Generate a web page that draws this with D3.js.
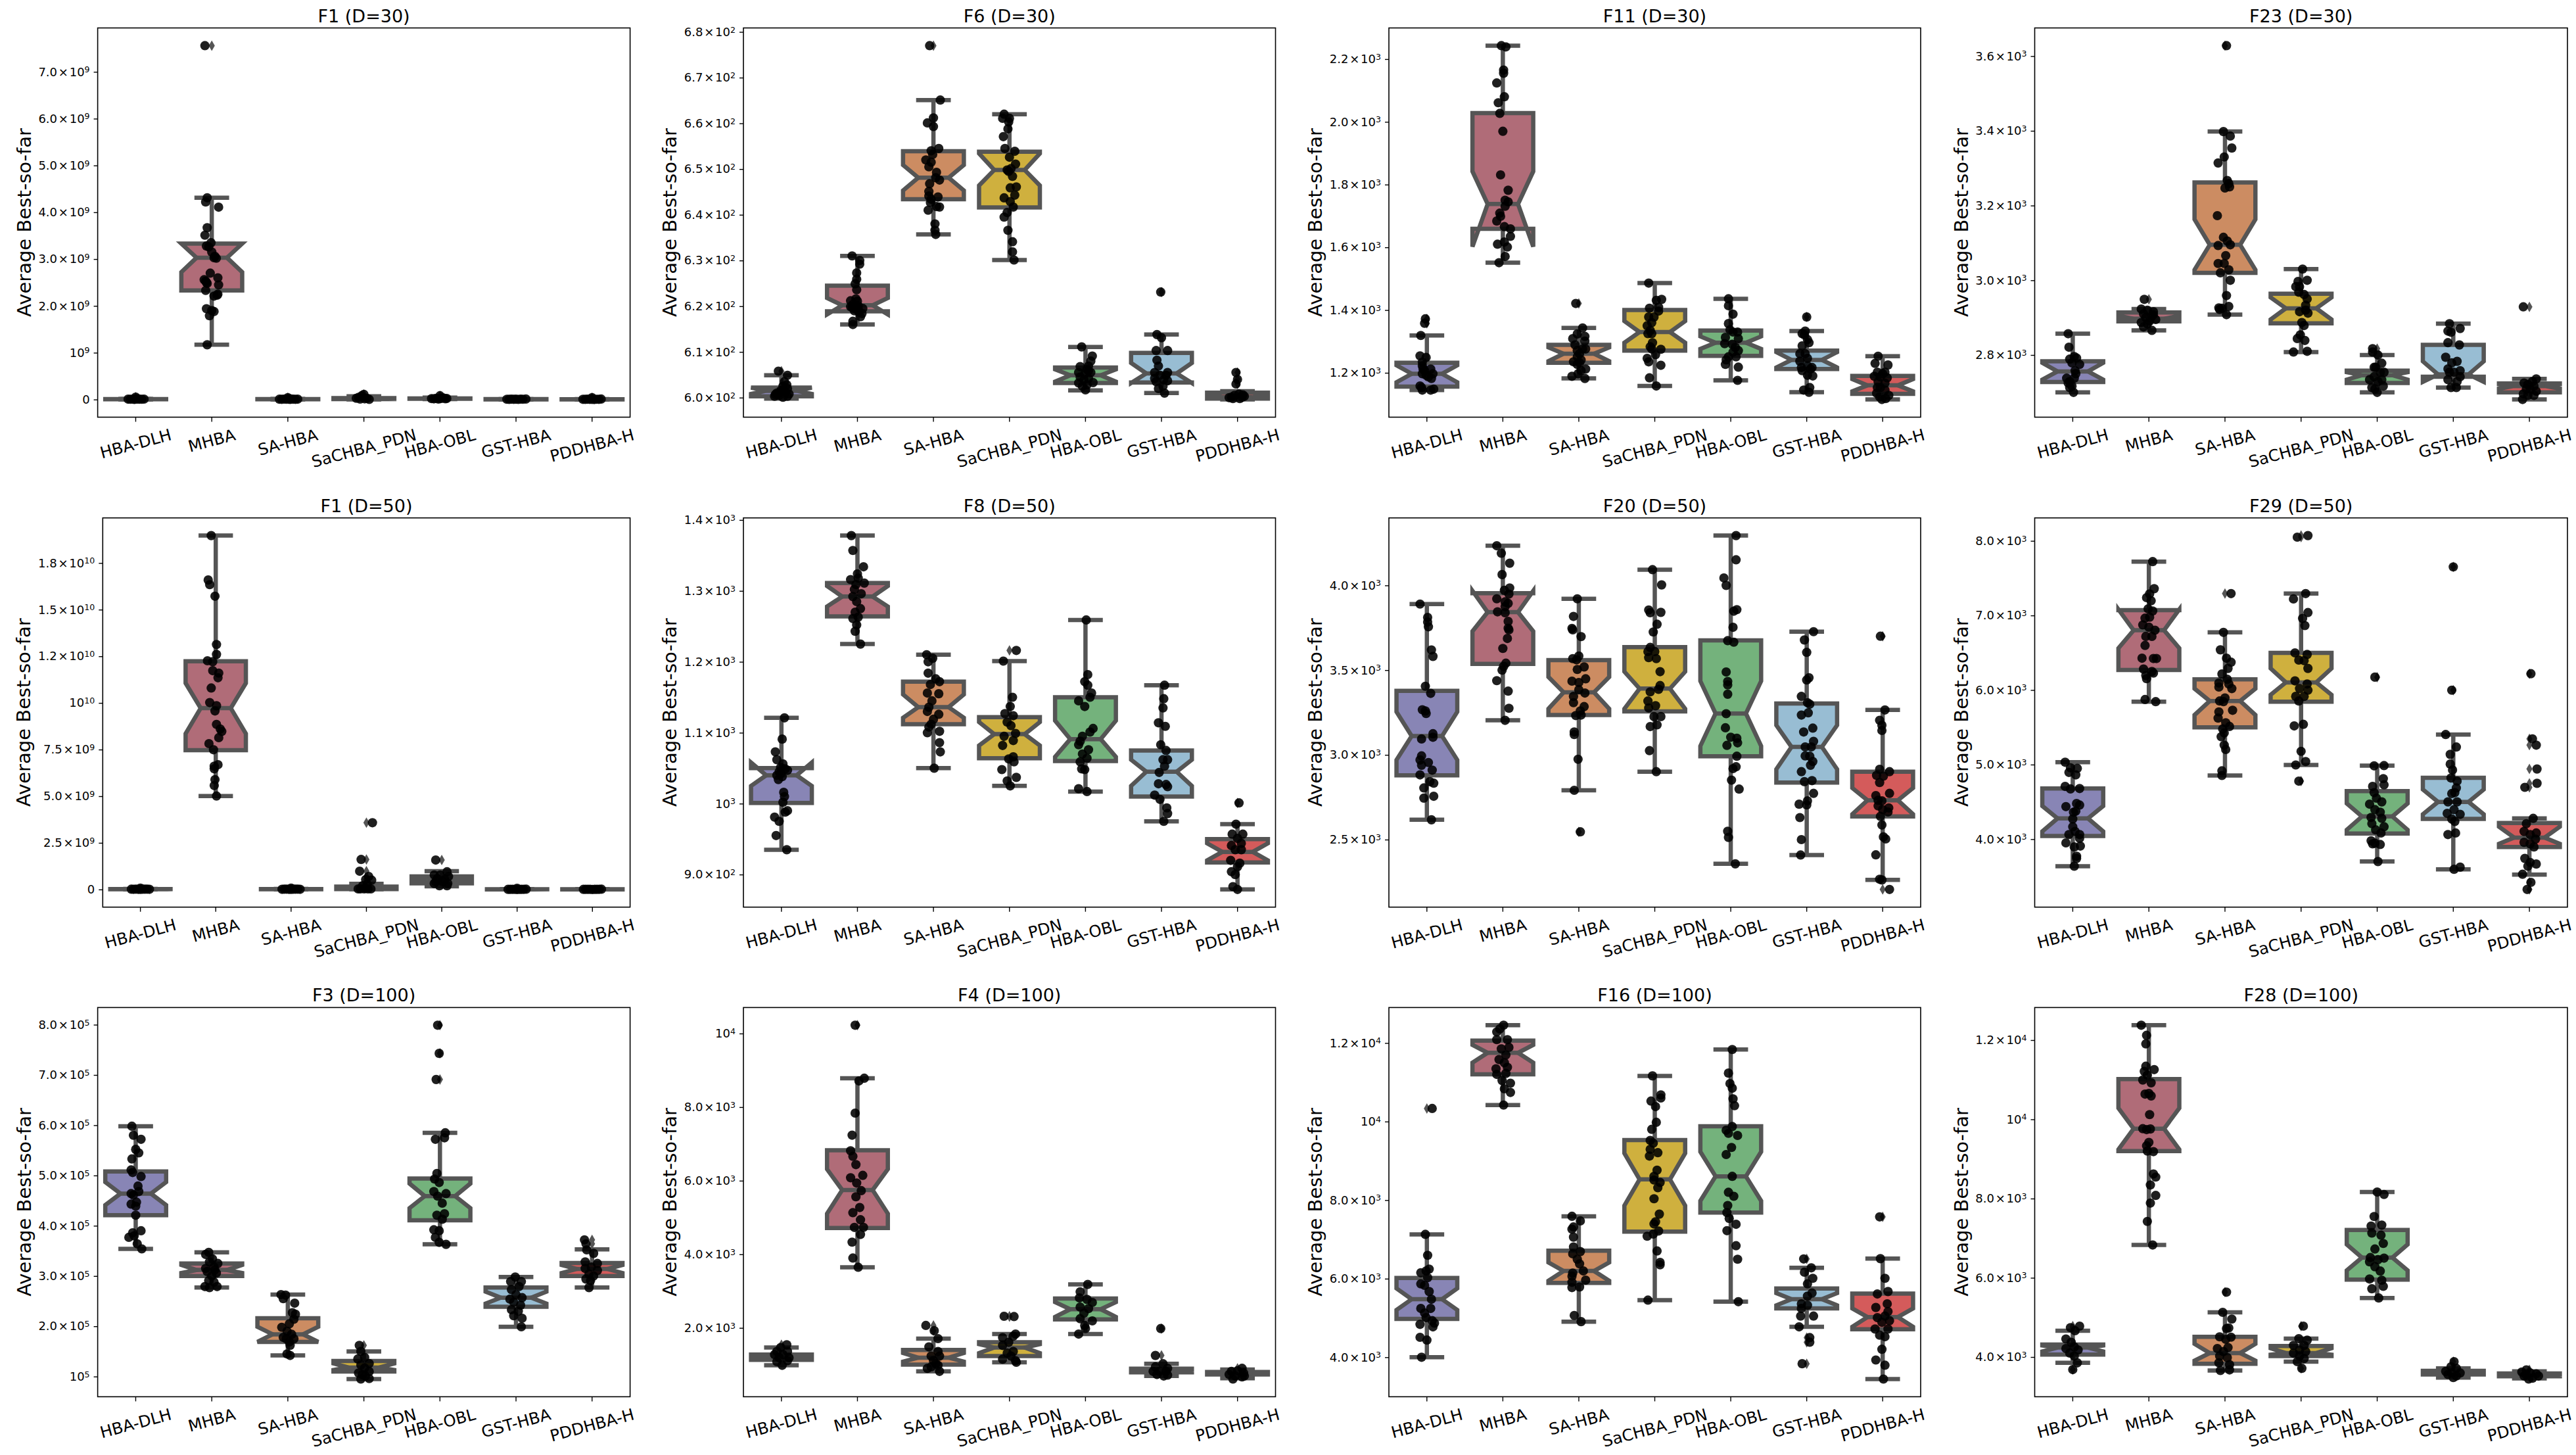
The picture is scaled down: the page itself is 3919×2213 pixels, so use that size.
<!DOCTYPE html>
<html>
<head>
<meta charset="utf-8">
<script src="https://cdn.jsdelivr.net/npm/d3@7/dist/d3.min.js"></script>
<style>
  html, body { margin: 0; padding: 0; background: #fff; }
  svg { display: block; }
  text { font-family: "DejaVu Sans", sans-serif; fill: #000; }
</style>
</head>
<body>
<div id="chart"></div>
<script>
var categories = ['HBA-DLH', 'MHBA', 'SA-HBA', 'SaCHBA_PDN', 'HBA-OBL', 'GST-HBA', 'PDDHBA-H'];
var fills = ['#8885b5', '#b06c78', '#cc8c62', '#cfb03e', '#74b27c', '#98bdd3', '#d45b5b'];

// box rows are [whisker low, q1, notch low, median, notch high, q3, whisker high]
// point rows are [jitter in hundredths of a category, value]

// F1 (D=30)
var f1d30Ticks = [0, 1e9, 2e9, 3e9, 4e9, 5e9, 6e9, 7e9];
var f1d30Labels = ['0', '10⁹', '2.0×10⁹', '3.0×10⁹', '4.0×10⁹', '5.0×10⁹', '6.0×10⁹', '7.0×10⁹'];
var f1d30Boxes = [
  [4e6, 6e6, 7e6, 8e6, 9e6, 1e7, 1.3e7],
  [1.17e9, 2.33e9, 2.72e9, 3.03e9, 3.33e9, 3.33e9, 4.31e9],
  [3e6, 5e6, 6e6, 7e6, 8e6, 9e6, 1.2e7],
  [3e6, 1e7, 1.5e7, 2e7, 2.5e7, 3e7, 7e7],
  [1e7, 1.5e7, 1.7e7, 2e7, 2.2e7, 2.5e7, 4e7],
  [2e6, 4e6, 5e6, 6e6, 7e6, 8e6, 1.1e7],
  [1e6, 3e6, 4e6, 5e6, 6e6, 7e6, 1e7]
];
var f1d30Points = [
  [[0, 5e7], [-10, 8e6], [-7, 6e6], [-4, 9e6], [-1, 7e6], [2, 1e7], [5, 8e6], [8, 6e6], [11, 9e6], [-2, 4e6], [3, 1.3e7]],
  [[-9, 7.56e9], [-6, 4.31e9], [-8, 4.22e9], [9, 4.11e9], [-6, 3.67e9], [-9, 3.51e9], [-1, 3.35e9], [-7, 3.28e9], [-4, 3.26e9], [0, 3.15e9], [4, 3.06e9], [3, 3.03e9], [6, 3.02e9], [-2, 2.7e9], [8, 2.6e9], [-10, 2.56e9], [-8, 2.53e9], [-7, 2.5e9], [-6, 2.48e9], [9, 2.45e9], [-8, 2.33e9], [8, 2.25e9], [7, 2.23e9], [3, 2.21e9], [-7, 1.94e9], [0, 1.9e9], [3, 1.88e9], [-3, 1.79e9], [-6, 1.17e9]],
  [[0, 4e7], [-11, 7e6], [-8, 5e6], [-5, 9e6], [-2, 6e6], [1, 8e6], [4, 1.2e7], [7, 7e6], [10, 5e6], [13, 8e6], [3, 3e6]],
  [[-10, 2.7e7], [-7, 4.6e7], [-3, 8e7], [0, 1.1e8], [4, 2.7e7], [7, 3e6], [-5, 1e7], [1, 1.5e7]],
  [[0, 8e7], [-11, 2e7], [-8, 1.5e7], [-5, 2.5e7], [-2, 1e7], [1, 2e7], [4, 3.5e7], [7, 1.7e7], [9, 2.2e7]],
  [[-12, 6e6], [-9, 4e6], [-6, 8e6], [-3, 5e6], [0, 7e6], [3, 2e6], [6, 9e6], [9, 6e6], [13, 1.1e7]],
  [[0, 4e7], [-12, 5e6], [-9, 3e6], [-6, 7e6], [-3, 5e6], [0, 4e6], [3, 1e6], [6, 6e6], [9, 5e6], [12, 1e7]]
];

// F6 (D=30)
var f6d30Ticks = [600, 610, 620, 630, 640, 650, 660, 670, 680];
var f6d30Labels = ['6.0×10²', '6.1×10²', '6.2×10²', '6.3×10²', '6.4×10²', '6.5×10²', '6.6×10²', '6.7×10²', '6.8×10²'];
var f6d30Boxes = [
  [599.8, 600.3, 600.8, 601.5, 602.2, 602.2, 604.9],
  [616, 618.9, 618.2, 620.2, 621.8, 624.5, 631],
  [635.7, 643.4, 645.3, 648.1, 650.9, 653.9, 665.1],
  [630.1, 641.6, 646.4, 649.8, 653.4, 653.8, 662],
  [601.6, 603.2, 603.5, 604.9, 606.2, 606.6, 611.1],
  [601, 603.3, 603.2, 605.3, 607.6, 609.8, 613.8],
  [599.6, 599.8, 599.9, 600.1, 600.5, 601.1, 601.4]
];
var f6d30Points = [
  [[-4, 605.8], [8, 604.9], [4, 603.5], [2, 602.5], [7, 602.8], [8, 602], [2, 601.7], [-1, 601.5], [5, 601.2], [-2, 601.1], [-6, 601], [10, 600.8], [-8, 600.7], [-3, 600.5], [-9, 600.3], [8, 600.3], [2, 600.1]],
  [[-7, 631], [3, 630], [3, 629.2], [-1, 627.3], [-1, 625.9], [-3, 624.9], [-1, 623.6], [-2, 621.6], [-9, 621.2], [0, 621.1], [-6, 620.4], [1, 620.1], [-3, 620.1], [-9, 619.9], [-7, 619.7], [7, 619.5], [-2, 619.4], [1, 619.3], [-4, 619], [2, 618.7], [6, 618.4], [4, 617.7], [-6, 616.7], [-6, 616]],
  [[-5, 677], [9, 665.1], [0, 661.2], [-8, 660.1], [0, 659.3], [7, 654.5], [-3, 654], [-1, 653.2], [-10, 652], [-3, 651.5], [-6, 650.5], [4, 649.3], [3, 648.1], [8, 647.6], [-5, 646.8], [-6, 645.1], [-6, 644.1], [6, 643.9], [-3, 643.4], [-4, 642.7], [4, 641.8], [8, 641.7], [-7, 641], [2, 638], [2, 636.6], [3, 635.7]],
  [[-7, 662], [-9, 661.1], [0, 661.1], [-1, 660.3], [-2, 658.8], [-8, 657.1], [-6, 654.5], [7, 653.9], [0, 652.6], [8, 651.1], [2, 650.1], [-3, 649.8], [-1, 649.5], [4, 648.4], [9, 646.1], [1, 645.9], [7, 644.3], [-7, 643.7], [1, 642.9], [5, 641.7], [-3, 640.5], [-7, 639.5], [-2, 636.6], [4, 634.1], [4, 631.9], [6, 630.1]],
  [[-5, 611.1], [9, 609.1], [7, 608], [-7, 606.8], [4, 606.9], [2, 606.2], [4, 605.9], [-9, 605.5], [7, 605.5], [-1, 605.2], [-7, 604.5], [4, 604.2], [-2, 603.9], [10, 603.3], [-9, 603.2], [2, 602.8], [-4, 602.5], [0, 601.7]],
  [[-1, 623.1], [-6, 613.8], [0, 613.1], [-7, 610.3], [8, 610.3], [-6, 608.2], [-4, 606.9], [-9, 605.5], [8, 605.5], [6, 604.9], [-2, 604.9], [-9, 604.2], [3, 603.9], [8, 603.7], [-7, 603.5], [2, 602.5], [-4, 602], [4, 601]],
  [[-2, 605.5], [0, 604], [-2, 603], [2, 600.8], [7, 600.6], [-4, 600.5], [9, 600.3], [-8, 600.1], [6, 600.1], [-11, 600], [3, 599.8], [-6, 599.8]]
];

// F11 (D=30)
var f11d30Ticks = [1200, 1400, 1600, 1800, 2000, 2200];
var f11d30Labels = ['1.2×10³', '1.4×10³', '1.6×10³', '1.8×10³', '2.0×10³', '2.2×10³'];
var f11d30Boxes = [
  [1145, 1156, 1170, 1197, 1224, 1232, 1319],
  [1551, 1659, 1602, 1738, 1842, 2028, 2243],
  [1182, 1232, 1237, 1261, 1281, 1289, 1343],
  [1158, 1271, 1296, 1330, 1365, 1400, 1486],
  [1176, 1254, 1276, 1296, 1316, 1335, 1436],
  [1138, 1212, 1217, 1241, 1266, 1271, 1333],
  [1115, 1133, 1141, 1160, 1180, 1190, 1253]
];
var f11d30Points = [
  [[-2, 1372], [-3, 1358], [-8, 1319], [-9, 1254], [-1, 1249], [-6, 1234], [-6, 1222], [5, 1212], [-5, 1212], [-3, 1207], [8, 1197], [-6, 1197], [-1, 1192], [2, 1187], [6, 1182], [-9, 1158], [-7, 1153], [9, 1148], [-6, 1145], [5, 1145]],
  [[-2, 2243], [4, 2239], [1, 2165], [1, 2155], [-8, 2124], [2, 2080], [-6, 2061], [-4, 2027], [0, 1970], [-3, 1831], [7, 1782], [3, 1750], [7, 1745], [3, 1731], [-4, 1709], [-3, 1699], [-8, 1684], [2, 1666], [10, 1659], [10, 1635], [2, 1617], [-7, 1610], [6, 1601], [3, 1571], [-5, 1551]],
  [[-4, 1421], [5, 1343], [-2, 1324], [8, 1316], [-8, 1309], [8, 1301], [-5, 1289], [5, 1276], [9, 1276], [-2, 1271], [1, 1261], [-2, 1251], [3, 1241], [-7, 1235], [1, 1232], [-2, 1227], [9, 1212], [3, 1207], [-1, 1197], [-9, 1189], [8, 1182]],
  [[-8, 1486], [9, 1434], [2, 1431], [5, 1409], [-7, 1406], [5, 1397], [-8, 1378], [-1, 1378], [-4, 1360], [-10, 1350], [-6, 1335], [-9, 1325], [-4, 1325], [-3, 1296], [-6, 1283], [-4, 1276], [8, 1275], [1, 1258], [-10, 1246], [-8, 1235], [8, 1224], [-7, 1184], [2, 1158]],
  [[-3, 1436], [-3, 1414], [3, 1387], [-3, 1357], [-1, 1337], [9, 1330], [3, 1330], [-7, 1313], [10, 1309], [-8, 1293], [2, 1291], [6, 1281], [10, 1271], [3, 1266], [-3, 1251], [7, 1251], [-6, 1241], [-7, 1227], [10, 1218], [9, 1176]],
  [[0, 1378], [-2, 1333], [-6, 1325], [-3, 1321], [1, 1306], [3, 1296], [-6, 1286], [-9, 1261], [-2, 1261], [1, 1246], [-9, 1237], [1, 1222], [-7, 1217], [7, 1217], [5, 1212], [-6, 1207], [1, 1192], [8, 1190], [4, 1153], [-4, 1145], [3, 1138]],
  [[-6, 1253], [-10, 1230], [7, 1225], [-7, 1202], [3, 1202], [0, 1197], [-11, 1189], [-3, 1187], [6, 1184], [-6, 1172], [3, 1167], [-3, 1153], [-7, 1153], [3, 1145], [-8, 1135], [8, 1128], [-4, 1123], [4, 1118], [-1, 1115]]
];

// F23 (D=30)
var f23d30Ticks = [2800, 3000, 3200, 3400, 3600];
var f23d30Labels = ['2.8×10³', '3.0×10³', '3.2×10³', '3.4×10³', '3.6×10³'];
var f23d30Boxes = [
  [2700, 2728, 2734, 2756, 2779, 2783, 2857],
  [2866, 2890, 2895, 2897, 2905, 2914, 2923],
  [2908, 3020, 3028, 3095, 3163, 3262, 3398],
  [2808, 2885, 2895, 2925, 2954, 2964, 3030],
  [2700, 2725, 2734, 2746, 2754, 2758, 2800],
  [2713, 2742, 2728, 2748, 2783, 2827, 2884],
  [2681, 2700, 2710, 2717, 2722, 2724, 2736]
];
var f23d30Points = [
  [[-6, 2857], [-5, 2821], [2, 2796], [5, 2792], [-4, 2789], [-1, 2779], [9, 2775], [3, 2758], [4, 2750], [-8, 2738], [2, 2738], [-4, 2729], [-6, 2725], [-1, 2717], [-4, 2713], [1, 2700]],
  [[-6, 2949], [-10, 2923], [-2, 2920], [6, 2916], [-7, 2910], [6, 2908], [4, 2904], [-4, 2900], [9, 2895], [1, 2891], [-10, 2887], [-2, 2883], [-7, 2875], [4, 2866]],
  [[2, 3628], [-2, 3398], [7, 3386], [9, 3354], [-1, 3330], [-9, 3314], [3, 3267], [5, 3259], [6, 3250], [0, 3247], [-10, 3173], [-2, 3115], [3, 3105], [7, 3095], [-9, 3093], [1, 3066], [-9, 3045], [-1, 3045], [5, 3028], [-6, 3020], [7, 3000], [2, 2959], [5, 2930], [-8, 2926], [-4, 2925], [-7, 2922], [2, 2908]],
  [[2, 3030], [8, 3000], [-4, 2997], [-7, 2983], [-2, 2983], [-3, 2968], [4, 2962], [8, 2950], [6, 2933], [6, 2920], [-2, 2916], [9, 2912], [1, 2887], [4, 2879], [-1, 2854], [-5, 2844], [5, 2839], [-10, 2808], [8, 2810]],
  [[-6, 2817], [-6, 2808], [1, 2800], [6, 2778], [-2, 2767], [-4, 2767], [9, 2754], [4, 2754], [-4, 2742], [-10, 2734], [6, 2734], [1, 2729], [8, 2717], [-7, 2713], [-3, 2709], [0, 2700]],
  [[-5, 2884], [9, 2871], [-7, 2864], [-3, 2861], [-7, 2833], [8, 2827], [-10, 2794], [5, 2783], [-2, 2779], [-7, 2763], [9, 2758], [1, 2754], [-5, 2754], [9, 2742], [-7, 2734], [5, 2729], [-3, 2713], [4, 2713]],
  [[-8, 2929], [9, 2736], [4, 2729], [-7, 2725], [-2, 2721], [6, 2717], [-4, 2709], [1, 2709], [9, 2703], [-8, 2696], [-2, 2692], [6, 2692], [-9, 2681]]
];

// F1 (D=50)
var f1d50Ticks = [0, 2.5e9, 5e9, 7.5e9, 1e10, 1.25e10, 1.5e10, 1.75e10];
var f1d50Labels = ['0', '2.5×10⁹', '5.0×10⁹', '7.5×10⁹', '10¹⁰', '1.2×10¹⁰', '1.5×10¹⁰', '1.8×10¹⁰'];
var f1d50Boxes = [
  [5e6, 1e7, 1.2e7, 1.5e7, 1.8e7, 2e7, 3e7],
  [5.01e9, 7.47e9, 8.35e9, 9.72e9, 11.06e9, 12.23e9, 18.97e9],
  [5e6, 1e7, 1.2e7, 1.5e7, 1.8e7, 2e7, 3e7],
  [1e7, 2e7, 3e7, 6e7, 1e8, 1.5e8, 3e8],
  [1.7e8, 3.3e8, 4.5e8, 5.2e8, 6e8, 7e8, 9.8e8],
  [3e6, 6e6, 7e6, 8e6, 9e6, 1e7, 1.5e7],
  [3e6, 6e6, 7e6, 8e6, 9e6, 1e7, 1.5e7]
];
var f1d50Points = [
  [[0, 7e7], [-12, 1.5e7], [-9, 1e7], [-6, 2e7], [-3, 1.2e7], [0, 5e6], [3, 1.8e7], [6, 1.5e7], [9, 2e7], [12, 1e7]],
  [[-6, 18.97e9], [-10, 16.59e9], [-8, 16.34e9], [-1, 15.72e9], [1, 13.13e9], [1, 12.6e9], [-11, 12.26e9], [-4, 12.21e9], [-4, 11.73e9], [4, 11.6e9], [3, 11.35e9], [-6, 10.8e9], [-8, 10.02e9], [1, 9.85e9], [-1, 9.57e9], [1, 8.85e9], [6, 8.6e9], [8, 8.47e9], [4, 8.14e9], [-9, 7.82e9], [-3, 7.49e9], [3, 6.69e9], [-2, 6.61e9], [-2, 6.47e9], [-1, 5.89e9], [-2, 5.57e9], [1, 5.01e9]],
  [[0, 7e7], [-12, 1e7], [-9, 1.5e7], [-6, 2e7], [-3, 1.2e7], [0, 5e6], [3, 1.8e7], [6, 1.5e7], [9, 2e7], [12, 1e7]],
  [[8, 3.58e9], [-7, 1.61e9], [-9, 0.98e9], [3, 0.7e9], [-1, 0.53e9], [7, 0.5e9], [1, 0.28e9], [-5, 2e8], [-1, 7e7], [-11, 3e7], [-8, 3e7], [-3, 3e7], [2, 3e7], [6, 3e7]],
  [[-8, 1.58e9], [7, 0.95e9], [-10, 0.78e9], [-2, 0.78e9], [9, 0.7e9], [-6, 0.58e9], [4, 0.53e9], [-8, 0.42e9], [1, 0.42e9], [8, 0.32e9], [-10, 0.32e9], [-3, 0.2e9], [7, 0.2e9]],
  [[0, 6e7], [-12, 8e6], [-9, 6e6], [-6, 1e7], [-3, 7e6], [0, 3e6], [3, 9e6], [6, 8e6], [9, 1e7], [12, 1.5e7]],
  [[-12, 8e6], [-9, 6e6], [-6, 1e7], [-3, 7e6], [0, 3e6], [3, 9e6], [6, 8e6], [9, 1e7], [12, 1.5e7]]
];

// F8 (D=50)
var f8d50Ticks = [900, 1000, 1100, 1200, 1300, 1400];
var f8d50Labels = ['9.0×10²', '10³', '1.1×10³', '1.2×10³', '1.3×10³', '1.4×10³'];
var f8d50Boxes = [
  [935, 1001, 1025, 1040, 1058, 1050, 1121],
  [1225, 1264, 1278, 1292, 1307, 1311, 1378],
  [1050, 1112, 1121, 1136, 1154, 1172, 1210],
  [1025, 1064, 1082, 1098, 1115, 1122, 1201],
  [1017, 1060, 1066, 1091, 1117, 1150, 1259],
  [975, 1010, 1025, 1045, 1062, 1075, 1167],
  [879, 917, 920, 932, 944, 950, 971]
];
var f8d50Points = [
  [[4, 1121], [1, 1091], [-8, 1073], [-6, 1062], [2, 1056], [-1, 1051], [5, 1049], [8, 1047], [-3, 1045], [-6, 1040], [-1, 1042], [1, 1038], [-4, 1034], [3, 1016], [4, 1010], [2, 1002], [8, 990], [5, 988], [-9, 981], [-3, 975], [-7, 955], [7, 935]],
  [[-8, 1378], [-6, 1357], [8, 1334], [0, 1324], [1, 1318], [-9, 1316], [9, 1311], [-2, 1309], [-4, 1302], [5, 1296], [-6, 1292], [-1, 1285], [4, 1275], [-3, 1270], [1, 1263], [-6, 1261], [-1, 1252], [-3, 1243], [4, 1225]],
  [[-9, 1210], [-1, 1205], [-7, 1200], [-7, 1184], [3, 1176], [8, 1172], [-4, 1168], [-8, 1156], [7, 1155], [-2, 1145], [-6, 1136], [-8, 1130], [7, 1126], [0, 1119], [-3, 1112], [-6, 1108], [8, 1102], [-8, 1100], [8, 1086], [9, 1073], [1, 1050]],
  [[9, 1216], [-8, 1201], [4, 1150], [1, 1137], [-6, 1127], [5, 1124], [-3, 1115], [2, 1110], [8, 1099], [-7, 1095], [5, 1089], [-9, 1082], [5, 1066], [-1, 1063], [6, 1059], [-10, 1048], [9, 1037], [-3, 1032], [1, 1025]],
  [[1, 1259], [3, 1182], [-1, 1172], [3, 1167], [8, 1156], [6, 1150], [-9, 1145], [-1, 1137], [10, 1106], [6, 1101], [-4, 1095], [-7, 1088], [-9, 1083], [4, 1076], [-4, 1070], [2, 1064], [-7, 1059], [-5, 1049], [-1, 1048], [-9, 1021], [2, 1017]],
  [[4, 1167], [3, 1148], [2, 1135], [-4, 1114], [5, 1109], [-1, 1083], [6, 1075], [2, 1062], [8, 1062], [4, 1053], [-3, 1044], [-4, 1028], [6, 1027], [8, 1024], [-9, 1012], [-2, 1006], [7, 994], [8, 986], [3, 975]],
  [[2, 1001], [-2, 971], [-7, 957], [7, 957], [0, 951], [5, 944], [-8, 941], [-3, 935], [5, 935], [-9, 920], [3, 916], [0, 911], [-8, 904], [-3, 900], [-6, 883], [0, 879]]
];

// F20 (D=50)
var f20d50Ticks = [2500, 3000, 3500, 4000];
var f20d50Labels = ['2.5×10³', '3.0×10³', '3.5×10³', '4.0×10³'];
var f20d50Boxes = [
  [2617, 2879, 2970, 3111, 3254, 3378, 3890],
  [3204, 3537, 3729, 3842, 3968, 3954, 4234],
  [2791, 3235, 3272, 3369, 3460, 3559, 3921],
  [2901, 3257, 3272, 3391, 3491, 3636, 4093],
  [2357, 2992, 3052, 3244, 3436, 3676, 4294],
  [2409, 2837, 2915, 3047, 3175, 3303, 3727],
  [2262, 2637, 2650, 2732, 2805, 2901, 3265]
];
var f20d50Points = [
  [[-9, 3890], [1, 3811], [1, 3784], [2, 3756], [6, 3619], [8, 3581], [-2, 3405], [5, 3363], [-6, 3266], [-2, 3259], [-1, 3244], [8, 3125], [8, 3104], [-7, 3094], [-7, 2994], [-9, 2970], [2, 2955], [-7, 2939], [7, 2910], [-9, 2882], [4, 2842], [9, 2833], [-4, 2805], [9, 2756], [-4, 2745], [6, 2617]],
  [[-8, 4234], [-2, 4190], [9, 4131], [-1, 4064], [9, 3985], [2, 3971], [8, 3949], [-8, 3921], [3, 3903], [7, 3894], [3, 3875], [-7, 3844], [3, 3839], [7, 3788], [7, 3747], [8, 3738], [6, 3687], [0, 3628], [4, 3541], [1, 3522], [-1, 3500], [-8, 3438], [7, 3376], [8, 3275], [3, 3204]],
  [[2, 2546], [-2, 3921], [-7, 3817], [-9, 3746], [-8, 3738], [3, 3698], [0, 3583], [-8, 3568], [-3, 3561], [7, 3519], [-2, 3504], [9, 3449], [-9, 3435], [0, 3427], [0, 3385], [8, 3365], [-7, 3345], [-7, 3308], [7, 3285], [2, 3259], [3, 3235], [-4, 3232], [-6, 3135], [-6, 3120], [-1, 2974], [-6, 2791]],
  [[-3, 4093], [9, 4003], [-8, 3855], [8, 3841], [-6, 3839], [3, 3771], [-2, 3725], [-6, 3634], [0, 3610], [-9, 3610], [-8, 3574], [2, 3568], [7, 3491], [7, 3409], [5, 3387], [-6, 3372], [-9, 3318], [1, 3290], [-8, 3277], [-1, 3226], [8, 3226], [3, 3177], [-6, 3167], [-7, 3025], [2, 2901]],
  [[7, 4294], [7, 4151], [-9, 4044], [-6, 4000], [8, 3857], [4, 3848], [3, 3753], [-4, 3674], [4, 3665], [-6, 3489], [-4, 3433], [-4, 3413], [-4, 3358], [-6, 3243], [-7, 3160], [0, 3104], [8, 3098], [9, 3071], [-5, 3056], [8, 2992], [7, 2930], [3, 2919], [1, 2851], [11, 2798], [-4, 2549], [-3, 2513], [6, 2357]],
  [[9, 3727], [-3, 3678], [0, 3605], [3, 3455], [0, 3442], [-7, 3345], [1, 3308], [4, 3299], [2, 3248], [-7, 3235], [8, 3158], [-4, 3135], [9, 3080], [-2, 3047], [6, 3047], [-2, 2994], [4, 2992], [8, 2961], [5, 2939], [-7, 2901], [7, 2848], [-3, 2842], [9, 2773], [1, 2729], [-10, 2709], [0, 2705], [-9, 2630], [-7, 2500], [-8, 2409]],
  [[-3, 3700], [3, 3265], [-4, 3204], [-1, 3175], [-1, 3144], [-4, 2915], [9, 2901], [-8, 2879], [1, 2875], [-4, 2837], [9, 2773], [-9, 2760], [-6, 2732], [-1, 2729], [-6, 2699], [8, 2687], [0, 2677], [7, 2663], [-3, 2637], [-1, 2586], [1, 2516], [4, 2504], [-9, 2410], [-4, 2266], [-1, 2262], [9, 2206]]
];

// F29 (D=50)
var f29d50Ticks = [4000, 5000, 6000, 7000, 8000];
var f29d50Labels = ['4.0×10³', '5.0×10³', '6.0×10³', '7.0×10³', '8.0×10³'];
var f29d50Boxes = [
  [3638, 4042, 4104, 4279, 4445, 4679, 5032],
  [5844, 6269, 6560, 6802, 7081, 7072, 7722],
  [4854, 5499, 5665, 5853, 6019, 6144, 6773],
  [4995, 5844, 5936, 6102, 6290, 6498, 7293],
  [3700, 4075, 4125, 4304, 4479, 4645, 4987],
  [3596, 4271, 4333, 4500, 4666, 4824, 5403],
  [3525, 3896, 3938, 4021, 4167, 4216, 4279]
];
var f29d50Points = [
  [[-10, 5032], [-3, 4957], [6, 4949], [-5, 4895], [4, 4862], [-10, 4708], [9, 4679], [-3, 4674], [5, 4479], [9, 4458], [-9, 4437], [1, 4362], [4, 4375], [0, 4271], [0, 4167], [3, 4104], [-5, 4062], [9, 4062], [9, 4012], [-9, 3950], [10, 3908], [2, 3896], [5, 3771], [5, 3742], [2, 3638]],
  [[5, 7722], [7, 7359], [1, 7289], [-3, 7239], [3, 7197], [-1, 7089], [5, 7060], [1, 6977], [-5, 6964], [-8, 6873], [0, 6843], [8, 6802], [-4, 6719], [4, 6719], [-5, 6598], [-9, 6427], [6, 6423], [10, 6423], [-7, 6281], [4, 6248], [6, 6227], [-4, 6194], [-3, 6152], [-5, 5873], [9, 5844]],
  [[8, 7293], [-2, 6773], [-6, 6539], [2, 6427], [8, 6373], [4, 6290], [-4, 6215], [3, 6144], [-8, 6094], [5, 6081], [-8, 6040], [9, 6019], [0, 5894], [-7, 5853], [-2, 5844], [10, 5728], [-8, 5707], [-9, 5624], [1, 5561], [6, 5511], [-3, 5478], [-1, 5424], [-5, 5374], [-1, 5261], [1, 5203], [-4, 4916], [-4, 4854]],
  [[9, 8071], [-5, 8050], [6, 7293], [-10, 7222], [9, 7039], [2, 6960], [5, 6864], [-8, 6498], [8, 6477], [-3, 6402], [4, 6394], [9, 6290], [-8, 6123], [8, 6081], [-2, 6019], [9, 5998], [-7, 5915], [4, 5915], [-3, 5853], [3, 5540], [-9, 5519], [0, 5178], [6, 5041], [-7, 4995], [-3, 4778]],
  [[-3, 6173], [9, 4987], [-4, 4983], [8, 4812], [9, 4729], [-6, 4708], [-4, 4624], [-1, 4550], [6, 4500], [-10, 4470], [-3, 4396], [4, 4362], [-8, 4291], [6, 4279], [-7, 4208], [9, 4167], [-2, 4125], [5, 4083], [-8, 3979], [-3, 3946], [-6, 3938], [4, 3929], [1, 3700]],
  [[0, 7651], [-2, 5998], [-10, 5403], [4, 5236], [-4, 5137], [-4, 5007], [-1, 4928], [-3, 4820], [5, 4778], [4, 4687], [2, 4624], [-2, 4612], [-7, 4500], [5, 4500], [1, 4396], [-8, 4346], [9, 4333], [-2, 4271], [2, 4237], [3, 4083], [-7, 4062], [9, 3625], [1, 3596]],
  [[2, 6219], [4, 5345], [9, 5261], [10, 4941], [10, 4749], [-6, 4695], [5, 4279], [-4, 4208], [-7, 4104], [9, 4083], [1, 4062], [8, 4000], [-7, 3958], [1, 3938], [6, 3896], [-6, 3742], [1, 3688], [9, 3667], [-2, 3638], [-9, 3530], [2, 3421], [-3, 3326]]
];

// F3 (D=100)
var f3d100Ticks = [1e5, 2e5, 3e5, 4e5, 5e5, 6e5, 7e5, 8e5];
var f3d100Labels = ['10⁵', '2.0×10⁵', '3.0×10⁵', '4.0×10⁵', '5.0×10⁵', '6.0×10⁵', '7.0×10⁵', '8.0×10⁵'];
var f3d100Boxes = [
  [3.54e5, 4.21e5, 4.41e5, 4.64e5, 4.87e5, 5.08e5, 5.98e5],
  [2.77e5, 3.0e5, 3.06e5, 3.12e5, 3.22e5, 3.25e5, 3.47e5],
  [1.42e5, 1.69e5, 1.69e5, 1.84e5, 1.99e5, 2.16e5, 2.63e5],
  [0.95e5, 1.1e5, 1.13e5, 1.18e5, 1.26e5, 1.31e5, 1.5e5],
  [3.63e5, 4.11e5, 4.35e5, 4.59e5, 4.84e5, 4.94e5, 5.85e5],
  [1.99e5, 2.39e5, 2.45e5, 2.57e5, 2.69e5, 2.77e5, 2.98e5],
  [2.77e5, 3.0e5, 3.06e5, 3.14e5, 3.22e5, 3.26e5, 3.53e5]
];
var f3d100Points = [
  [[-5, 5.98e5], [-3, 5.8e5], [7, 5.72e5], [0, 5.52e5], [4, 5.45e5], [-5, 5.33e5], [-6, 5.11e5], [-4, 5.06e5], [7, 4.98e5], [3, 4.79e5], [4, 4.68e5], [-6, 4.64e5], [-3, 4.61e5], [1, 4.47e5], [-6, 4.43e5], [0, 4.39e5], [0, 4.21e5], [7, 3.9e5], [-4, 3.86e5], [-2, 3.8e5], [-9, 3.77e5], [2, 3.64e5], [8, 3.54e5]],
  [[-4, 3.47e5], [-8, 3.43e5], [1, 3.34e5], [-3, 3.28e5], [8, 3.25e5], [3, 3.18e5], [-8, 3.15e5], [4, 3.12e5], [-6, 3.09e5], [6, 3.06e5], [0, 3.0e5], [-4, 2.91e5], [3, 2.88e5], [-9, 2.79e5], [7, 2.79e5], [-3, 2.77e5]],
  [[-9, 2.63e5], [-3, 2.62e5], [-6, 2.55e5], [9, 2.46e5], [6, 2.27e5], [10, 2.24e5], [8, 2.14e5], [2, 2.05e5], [-8, 1.98e5], [-1, 1.9e5], [5, 1.84e5], [-6, 1.78e5], [8, 1.75e5], [-2, 1.75e5], [2, 1.69e5], [3, 1.62e5], [-1, 1.45e5], [3, 1.42e5]],
  [[-6, 1.62e5], [-4, 1.5e5], [1, 1.38e5], [-8, 1.35e5], [7, 1.26e5], [-4, 1.23e5], [1, 1.17e5], [7, 1.1e5], [-7, 1.07e5], [-2, 1.04e5], [2, 1.01e5], [7, 0.96e5], [-4, 0.95e5]],
  [[-3, 7.99e5], [-1, 7.43e5], [-5, 6.91e5], [7, 5.85e5], [6, 5.75e5], [-6, 5.72e5], [-4, 5.04e5], [-7, 4.93e5], [-1, 4.86e5], [-8, 4.68e5], [8, 4.64e5], [-3, 4.59e5], [3, 4.45e5], [6, 4.24e5], [-4, 4.21e5], [3, 4.13e5], [-8, 3.92e5], [-1, 3.9e5], [-6, 3.77e5], [-1, 3.67e5], [8, 3.63e5]],
  [[-1, 2.98e5], [-7, 2.89e5], [7, 2.89e5], [4, 2.79e5], [-6, 2.73e5], [0, 2.63e5], [8, 2.57e5], [-8, 2.54e5], [-3, 2.48e5], [6, 2.42e5], [-6, 2.33e5], [3, 2.3e5], [-3, 2.21e5], [8, 2.16e5], [7, 1.99e5]],
  [[-10, 3.72e5], [-8, 3.64e5], [-7, 3.52e5], [2, 3.45e5], [-9, 3.28e5], [7, 3.25e5], [-1, 3.18e5], [-9, 3.15e5], [7, 3.11e5], [-4, 3.04e5], [2, 3.0e5], [-8, 2.94e5], [-2, 2.91e5], [-4, 2.77e5]]
];

// F4 (D=100)
var f4d100Ticks = [2000, 4000, 6000, 8000, 10000];
var f4d100Labels = ['2.0×10³', '4.0×10³', '6.0×10³', '8.0×10³', '10⁴'];
var f4d100Boxes = [
  [984, 1134, 1170, 1217, 1260, 1276, 1467],
  [3649, 4714, 5106, 5747, 6313, 6829, 8786],
  [818, 1001, 1085, 1192, 1320, 1401, 1709],
  [1067, 1234, 1317, 1467, 1560, 1609, 1833],
  [1833, 2233, 2300, 2508, 2700, 2799, 3182],
  [693, 793, 810, 842, 870, 893, 1026],
  [634, 734, 745, 760, 785, 801, 868]
];
var f4d100Points = [
  [[7, 1542], [-1, 1467], [-6, 1359], [8, 1359], [-9, 1276], [2, 1276], [10, 1192], [-3, 1192], [8, 1109], [-6, 1084], [1, 984]],
  [[-3, 10226], [9, 8786], [2, 8711], [-3, 7837], [-7, 7237], [-9, 6813], [-6, 6663], [-2, 6438], [7, 6146], [-9, 6080], [-1, 5938], [5, 5730], [-2, 5564], [3, 5272], [-6, 5131], [4, 4939], [-4, 4731], [8, 4731], [4, 4539], [-7, 4331], [-6, 3898], [1, 3649]],
  [[-10, 2067], [1, 1925], [6, 1709], [-6, 1484], [6, 1359], [-3, 1234], [8, 1234], [0, 1109], [3, 1026], [6, 984], [-3, 942], [-8, 901], [8, 818]],
  [[-7, 2316], [6, 2308], [8, 1833], [5, 1775], [-9, 1734], [-1, 1609], [-9, 1525], [5, 1359], [-3, 1317], [2, 1234], [-9, 1151], [8, 1109], [9, 1067]],
  [[3, 3182], [-7, 2982], [-8, 2816], [2, 2774], [9, 2691], [-7, 2566], [4, 2525], [-2, 2400], [-7, 2250], [9, 2191], [-1, 2067], [0, 1983], [-9, 1833]],
  [[-1, 1983], [-8, 1251], [2, 1026], [-8, 942], [8, 901], [-3, 818], [6, 818], [-11, 818], [-6, 734], [8, 718], [3, 693]],
  [[6, 901], [0, 834], [-8, 818], [8, 776], [-11, 734], [-3, 693], [9, 693], [6, 668], [-6, 610]]
];

// F16 (D=100)
var f16d100Ticks = [4000, 6000, 8000, 10000, 12000];
var f16d100Labels = ['4.0×10³', '6.0×10³', '8.0×10³', '10⁴', '1.2×10⁴'];
var f16d100Boxes = [
  [4000, 4978, 5204, 5478, 5752, 6018, 7128],
  [10420, 11202, 11499, 11750, 11953, 12062, 12453],
  [4907, 5892, 5947, 6197, 6416, 6714, 7589],
  [5454, 7198, 7863, 8528, 9192, 9529, 11163],
  [5415, 7683, 7980, 8606, 9232, 9881, 11835],
  [4774, 5243, 5322, 5478, 5634, 5752, 6276],
  [3445, 4712, 4774, 5024, 5243, 5619, 6510]
];
var f16d100Points = [
  [[7, 10334], [-2, 7128], [1, 6596], [3, 6244], [-1, 6197], [-8, 6151], [1, 6025], [-8, 5869], [-3, 5830], [3, 5673], [6, 5478], [5, 5243], [-8, 5243], [-3, 5126], [-1, 5009], [7, 4931], [10, 4868], [-9, 4837], [8, 4774], [-9, 4508], [0, 4438], [-7, 4000]],
  [[1, 12453], [-4, 12359], [-8, 12281], [-8, 12086], [6, 12086], [8, 11890], [-2, 11851], [4, 11695], [-5, 11578], [2, 11499], [6, 11382], [-9, 11343], [4, 11226], [-8, 11202], [-1, 11046], [10, 10976], [2, 10835], [10, 10741], [1, 10420]],
  [[-9, 7589], [2, 7472], [-7, 7316], [-9, 7261], [-7, 7058], [-7, 6807], [2, 6690], [-8, 6635], [-2, 6495], [1, 6377], [6, 6197], [-8, 6143], [-9, 6065], [9, 5963], [-9, 5908], [1, 5790], [-9, 5775], [-6, 5064], [3, 4907]],
  [[-3, 11163], [8, 10678], [8, 10600], [-5, 10522], [1, 10381], [2, 9982], [-4, 9802], [-6, 9521], [-2, 9451], [-6, 9294], [4, 9208], [-7, 9122], [3, 8762], [-1, 8606], [-1, 8512], [7, 8450], [4, 8317], [-1, 8035], [6, 7644], [1, 7449], [-1, 7394], [5, 7214], [-2, 7136], [-10, 7081], [3, 6706], [7, 6416], [7, 6354], [-9, 5454]],
  [[2, 11835], [-3, 11234], [-1, 10968], [2, 10850], [3, 10577], [5, 10405], [2, 9873], [-6, 9779], [-3, 9701], [9, 9646], [1, 9341], [-6, 9161], [2, 8606], [-3, 8199], [4, 8098], [-4, 7863], [-5, 7683], [-2, 7535], [7, 7386], [-5, 7222], [7, 6839], [9, 6495], [10, 5415]],
  [[-4, 6502], [6, 6276], [-3, 6166], [8, 6010], [1, 5869], [7, 5634], [1, 5556], [-7, 5361], [1, 5322], [-7, 5243], [9, 5048], [-8, 5048], [-10, 4774], [4, 4500], [4, 4383], [-6, 3836]],
  [[-4, 7574], [-3, 6510], [3, 6010], [7, 5673], [-7, 5611], [6, 5361], [-9, 5267], [7, 5165], [3, 5048], [-7, 5009], [9, 4931], [-1, 4891], [-10, 4719], [7, 4719], [-4, 4563], [3, 4524], [-1, 4203], [-9, 3930], [3, 3797], [1, 3445]]
];

// F28 (D=100)
var f28d100Ticks = [4000, 6000, 8000, 10000, 12000];
var f28d100Labels = ['4.0×10³', '6.0×10³', '8.0×10³', '10⁴', '1.2×10⁴'];
var f28d100Boxes = [
  [3853, 4062, 4139, 4240, 4290, 4317, 4665],
  [6828, 9200, 9239, 9764, 10282, 11016, 12376],
  [3660, 3830, 3907, 4100, 4332, 4510, 5128],
  [3884, 4023, 4060, 4100, 4220, 4278, 4464],
  [5491, 5955, 6187, 6511, 6843, 7207, 8165],
  [3482, 3560, 3575, 3600, 3625, 3652, 3714],
  [3459, 3513, 3525, 3545, 3565, 3583, 3637]
];
var f28d100Points = [
  [[9, 4780], [-3, 4742], [3, 4665], [-9, 4456], [-2, 4371], [2, 4255], [-9, 4216], [7, 4178], [-4, 4100], [2, 4023], [6, 3853], [0, 3683]],
  [[-10, 12376], [-3, 12121], [-4, 11905], [-4, 11341], [7, 11256], [-6, 11209], [-2, 11117], [-8, 10993], [3, 10923], [0, 10653], [-5, 10638], [3, 10591], [1, 10120], [-8, 9764], [2, 9757], [-3, 9741], [0, 9417], [-3, 9332], [-2, 9200], [6, 9185], [6, 8621], [9, 8543], [2, 8343], [9, 8080], [2, 7887], [-2, 7423], [5, 6828]],
  [[2, 5638], [-3, 5128], [9, 4958], [5, 4734], [2, 4719], [-7, 4510], [8, 4502], [1, 4448], [4, 4240], [-10, 4216], [-2, 4139], [-7, 4023], [3, 3985], [-8, 3853], [6, 3807], [6, 3675], [-6, 3660]],
  [[3, 4780], [-3, 4464], [8, 4425], [-10, 4294], [4, 4294], [-2, 4178], [6, 4139], [-10, 4100], [-2, 4023], [4, 3961], [-5, 3884], [1, 3714]],
  [[0, 8165], [9, 8103], [-4, 7547], [6, 7330], [-8, 7307], [-7, 7129], [5, 7075], [8, 6867], [-3, 6727], [-9, 6511], [9, 6496], [1, 6457], [-10, 6403], [-3, 6280], [4, 6171], [-10, 5970], [6, 5939], [8, 5785], [-7, 5723], [2, 5491]],
  [[1, 3884], [-3, 3753], [4, 3714], [-10, 3637], [9, 3598], [-2, 3598], [-7, 3560], [4, 3521], [0, 3482]],
  [[-4, 3675], [-10, 3621], [1, 3598], [9, 3575], [-4, 3544], [12, 3521], [-7, 3521], [4, 3467], [-1, 3444]]
];

var titles = ['F1 (D=30)', 'F6 (D=30)', 'F11 (D=30)', 'F23 (D=30)', 'F1 (D=50)', 'F8 (D=50)', 'F20 (D=50)', 'F29 (D=50)', 'F3 (D=100)', 'F4 (D=100)', 'F16 (D=100)', 'F28 (D=100)'];
var tickLists = [f1d30Ticks, f6d30Ticks, f11d30Ticks, f23d30Ticks, f1d50Ticks, f8d50Ticks, f20d50Ticks, f29d50Ticks, f3d100Ticks, f4d100Ticks, f16d100Ticks, f28d100Ticks];
var labelLists = [f1d30Labels, f6d30Labels, f11d30Labels, f23d30Labels, f1d50Labels, f8d50Labels, f20d50Labels, f29d50Labels, f3d100Labels, f4d100Labels, f16d100Labels, f28d100Labels];
var boxLists = [f1d30Boxes, f6d30Boxes, f11d30Boxes, f23d30Boxes, f1d50Boxes, f8d50Boxes, f20d50Boxes, f29d50Boxes, f3d100Boxes, f4d100Boxes, f16d100Boxes, f28d100Boxes];
var pointLists = [f1d30Points, f6d30Points, f11d30Points, f23d30Points, f1d50Points, f8d50Points, f20d50Points, f29d50Points, f3d100Points, f4d100Points, f16d100Points, f28d100Points];

var width = 3919, height = 2213;

// plot frames of the 4 x 3 grid
var colLeft = [148.6, 1131, 2113, 3095.5];
var colRight = [958.6, 1940.5, 2922, 3906];
var rowTop = [42.5, 787.7, 1532.4];
var plotHeight = 592;

var lineColor = '#555';
var lineWidth = 6.5;

var supDigits = { '⁰': '0', '¹': '1', '²': '2', '³': '3', '⁴': '4', '⁵': '5', '⁹': '9' };

var svg = d3.select('#chart').append('svg').attr('width', width).attr('height', height);

titles.forEach(function (title, n) {
  var col = n % 4, row = Math.floor(n / 4);
  // F1 (D=50) has wider tick labels, its frame starts further right
  var left = n === 4 ? 156.3 : colLeft[col];
  var w = colRight[col] - left;
  var boxes = boxLists[n], points = pointLists[n];

  var g = svg.append('g').attr('transform', 'translate(' + left + ',' + rowTop[row] + ')');

  var all = [];
  boxes.forEach(function (b) { all.push(b[0], b[6]); });
  points.forEach(function (p) { p.forEach(function (d) { all.push(d[1]); }); });
  var ext = d3.extent(all), pad = (ext[1] - ext[0]) * 0.05;

  var x = d3.scaleBand().domain(categories).range([0, w]);
  var y = d3.scaleLinear().domain([ext[0] - pad, ext[1] + pad]).range([plotHeight, 0]);
  var bw = x.bandwidth();
  var halfBox = bw * 0.4;

  categories.forEach(function (cat, i) {
    var b = boxes[i], cx = x(cat) + bw / 2;
    var q = g.append('g');

    // whiskers and caps
    [[b[0], b[1]], [b[6], b[5]]].forEach(function (w2) {
      q.append('line').attr('x1', cx).attr('x2', cx).attr('y1', y(w2[0])).attr('y2', y(w2[1]))
        .attr('stroke', lineColor).attr('stroke-width', lineWidth);
      q.append('line').attr('x1', cx - halfBox / 2).attr('x2', cx + halfBox / 2).attr('y1', y(w2[0])).attr('y2', y(w2[0]))
        .attr('stroke', lineColor).attr('stroke-width', lineWidth).attr('stroke-linecap', 'square');
    });

    // notched box
    var l = cx - halfBox, r = cx + halfBox, ml = cx - halfBox / 2, mr = cx + halfBox / 2;
    var outline = [[l, b[1]], [r, b[1]], [r, b[2]], [mr, b[3]], [r, b[4]], [r, b[5]], [l, b[5]], [l, b[4]], [ml, b[3]], [l, b[2]]];
    q.append('path')
      .attr('d', d3.line().x(function (d) { return d[0]; }).y(function (d) { return y(d[1]); })(outline) + 'Z')
      .attr('fill', fills[i]).attr('stroke', lineColor).attr('stroke-width', lineWidth).attr('stroke-linejoin', 'miter');
    q.append('line').attr('x1', ml).attr('x2', mr).attr('y1', y(b[3])).attr('y2', y(b[3]))
      .attr('stroke', lineColor).attr('stroke-width', lineWidth);

    // fliers sit on the box centre, the jittered strip goes over them
    var eps = (ext[1] - ext[0]) * 0.003;
    var fliers = points[i].filter(function (d) { return d[1] > b[6] + eps || d[1] < b[0] - eps; });
    q.selectAll('path.flier').data(fliers).enter().append('path').classed('flier', true)
      .attr('d', d3.symbol(d3.symbolDiamond, 74))
      .attr('transform', function (d) { return 'translate(' + cx + ',' + y(d[1]) + ')'; })
      .attr('fill', lineColor);
    q.selectAll('circle').data(points[i]).enter().append('circle')
      .attr('cx', function (d) { return cx + d[0] / 100 * bw; })
      .attr('cy', function (d) { return y(d[1]); })
      .attr('r', 7.1)
      .attr('fill', '#000').attr('fill-opacity', 0.88);
  });

  // frame
  g.append('rect').attr('width', w).attr('height', plotHeight)
    .attr('fill', 'none').attr('stroke', '#000').attr('stroke-width', 1.6);

  var yAxis = g.append('g').call(d3.axisLeft(y).tickValues(tickLists[n])
    .tickFormat(function (d, i) { return labelLists[n][i]; }).tickSize(6).tickPadding(6));
  yAxis.select('.domain').remove();
  yAxis.selectAll('line').attr('stroke-width', 1.4);
  // exponent as a raised smaller tspan, spaced × like mathtext
  yAxis.selectAll('text').style('font-size', '18px').style('font-family', '"DejaVu Sans"').each(function () {
    var m = this.textContent.match(/^(.*?)([⁰¹²³⁴⁵⁹]+)$/);
    if (!m) return;
    var exp = m[2].split('').map(function (c) { return supDigits[c]; }).join('');
    var t = d3.select(this).text(m[1].replace('×', '\u200a×\u200a'));
    t.append('tspan').attr('dy', '-0.42em').style('font-size', '70%').text(exp);
  });

  var xAxis = g.append('g').attr('transform', 'translate(0,' + plotHeight + ')')
    .call(d3.axisBottom(x).tickSize(7));
  xAxis.select('.domain').remove();
  xAxis.selectAll('line').attr('stroke-width', 1.4);
  // labels are turned 15 degrees, the tops of their boxes line up
  var angle = 15 * Math.PI / 180, fontSize = 24.5;
  xAxis.selectAll('text')
    .style('font-size', fontSize + 'px').style('font-family', '"DejaVu Sans"')
    .attr('dy', '0.35em')
    .attr('y', 0)
    .attr('transform', function () {
      var len = this.getComputedTextLength();
      var half = (len * Math.sin(angle) + fontSize * 1.1 * Math.cos(angle)) / 2;
      return 'translate(0,' + (13 + half) + ') rotate(-15)';
    });

  g.append('text').attr('x', w / 2).attr('y', -9).attr('text-anchor', 'middle')
    .style('font-size', '27px').text(title);

  var labelGap = n === 4 ? 120 : 111.8;
  g.append('text')
    .attr('transform', 'translate(' + (-labelGap) + ',' + (plotHeight / 2) + ') rotate(-90)')
    .attr('text-anchor', 'middle').attr('dy', '0.35em')
    .style('font-size', '29px').text('Average Best-so-far');
});
</script>
</body>
</html>
